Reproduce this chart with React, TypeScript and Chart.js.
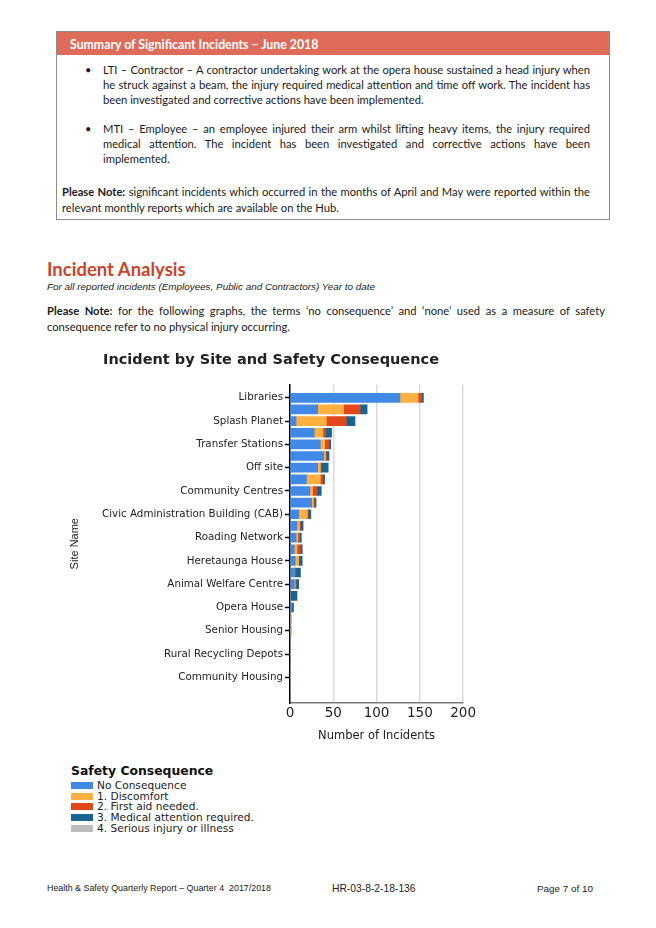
import React, { useEffect, useRef } from "react";
import { Chart, registerables } from "chart.js";

Chart.register(...registerables);

const categories = [
  "Libraries", "", "Splash Planet", "", "Transfer Stations", "", "Off site", "",
  "Community Centres", "", "Civic Administration Building (CAB)", "", "Roading Network", "",
  "Heretaunga House", "", "Animal Welfare Centre", "", "Opera House", "", "Senior Housing", "",
  "Rural Recycling Depots", "", "Community Housing", "",
];

const seriesNames = [
  "No Consequence",
  "1. Discomfort",
  "2. First aid needed.",
  "3. Medical attention required.",
  "4. Serious injury or illness",
];
const seriesColors = ["#4189e6", "#fbb03f", "#e0481a", "#19658f", "#bdbdbd"];

const noConsequence = [127, 32, 7, 28, 35, 39, 32, 19, 23, 25, 10, 8, 7, 5, 6, 5, 5, 0, 2, 0, 0, 0, 0, 0, 0, 0];
const discomfort = [21, 30, 35, 10, 5, 2, 3, 16, 3, 2, 10, 3, 2, 3, 4, 0, 1, 0, 0, 1, 1, 0, 0, 0, 0, 0];
const firstAid = [4, 19, 23, 3, 5, 1, 1, 3, 5, 1, 1, 1, 2, 4, 0, 1, 1, 0, 0, 0, 0, 0, 0, 0, 0, 0];
const medicalAttention = [2, 8, 10, 7, 2, 3, 8, 2, 5, 2, 3, 3, 2, 2, 4, 6, 3, 8, 2, 0, 0, 0, 0, 0, 0, 0];
const seriousInjury = [0, 0, 0, 0, 0, 0, 0, 0, 0, 0, 0, 0, 0, 0, 0, 0, 0, 0, 0, 0, 0, 0, 0, 0, 0, 0];

const seriesValues = [noConsequence, discomfort, firstAid, medicalAttention, seriousInjury];
const xTicks = [0, 50, 100, 150, 200];

const BODY = "Lato, 'Open Sans', sans-serif";
const ARIAL = "'Liberation Sans', Arial, sans-serif";
const DEJAVU = "'DejaVu Sans', sans-serif";
const TXT = 11.2;

function Line(props: { x: number; y: number; w?: number; size: number; justify?: boolean; children: React.ReactNode; style?: React.CSSProperties; lh?: number }) {
  const lh = props.lh ?? 15;
  return (
    <div
      style={{
        position: "absolute",
        left: props.x,
        top: props.y - lh / 2,
        width: props.w,
        height: lh,
        lineHeight: lh + "px",
        fontSize: props.size,
        fontFamily: BODY,
        color: "#1a1a1a",
        whiteSpace: props.justify ? "normal" : "nowrap",
        textAlign: props.justify ? "justify" : "left",
        textAlignLast: props.justify ? "justify" : "left",
        ...props.style,
      }}
    >
      {props.children}
    </div>
  );
}

function IncidentChart() {
  const ref = useRef<HTMLCanvasElement | null>(null);
  useEffect(() => {
    if (!ref.current) return;
    const chart = new Chart(ref.current, {
      type: "bar",
      data: {
        datasets: seriesValues.map((vals, k) => ({
          label: seriesNames[k],
          data: vals.map((v, i) => ({ x: v, y: i })),
          backgroundColor: seriesColors[k],
          borderWidth: 0,
          barThickness: 9,
          stack: "all",
        })),
      },
      options: {
        indexAxis: "y",
        responsive: false,
        animation: false,
        devicePixelRatio: 1,
        layout: { padding: { left: 0, right: 0, top: 0, bottom: 0 } },
        plugins: {
          legend: { display: false },
          tooltip: { enabled: false },
          title: {
            display: true,
            text: "Incident by Site and Safety Consequence",
            color: "#222",
            font: { family: DEJAVU, size: 14.5, weight: "bold" },
            padding: { top: 9, bottom: 15 },
          },
        },
        scales: {
          x: {
            type: "linear",
            stacked: true,
            min: 0,
            max: 200,
            afterBuildTicks: (scale: any) => {
              scale.ticks = xTicks.map((v) => ({ value: v }));
            },
            ticks: { color: "#222", font: { family: DEJAVU, size: 13.5 }, padding: 2 },
            grid: { color: "#dadada", lineWidth: 1.5, drawTicks: false },
            border: { color: "#7a7a7a", width: 1.5 },
            title: {
              display: true,
              text: "Number of Incidents",
              color: "#222",
              font: { family: DEJAVU, size: 11.5 },
              padding: { top: 6, bottom: 5 },
            },
          },
          y: {
            type: "linear",
            reverse: true,
            offset: false,
            min: -1.15,
            max: 26.2,
            afterBuildTicks: (scale: any) => {
              scale.ticks = categories.map((_, i) => ({ value: i }));
            },
            afterFit: (scale: any) => {
              scale.width = 226;
            },
            ticks: {
              autoSkip: false,
              color: "#222",
              font: { family: DEJAVU, size: 10.3 },
              padding: 2,
              callback: (v: any) => categories[v as number] ?? "",
            },
            grid: {
              offset: false,
              drawOnChartArea: false,
              tickLength: 5,
              tickWidth: 1.5,
              tickColor: (ctx: any) => (categories[ctx.tick?.value] ? "#000" : "rgba(0,0,0,0)"),
            },
            border: { color: "#000", width: 1.5 },
            title: {
              display: true,
              text: "Site Name",
              color: "#222",
              font: { family: ARIAL, size: 11 },
              padding: { top: 4.5, bottom: 10 },
            },
          },
        },
      } as any,
    });
    return () => chart.destroy();
  }, []);
  return <canvas ref={ref} width={414} height={405} style={{ position: "absolute", left: 64, top: 343, width: 414, height: 405 }} />;
}

export default function App() {
  return (
    <div style={{ position: "absolute", left: 0, top: 0, width: 656, height: 928, background: "#fff", overflow: "hidden" }}>
      {/* Summary box */}
      <div style={{ position: "absolute", left: 56, top: 31, width: 552, height: 187, border: "1px solid #8c8c8c" }} />
      <div style={{ position: "absolute", left: 57, top: 32, width: 552, height: 23, background: "#df6b5b" }} />
      <Line x={70} y={44} size={12.3} style={{ color: "#fff", fontWeight: 700 }}>
        Summary of Significant Incidents – June 2018
      </Line>
      <Line x={85} y={69} size={11}>•</Line>
      <Line x={103} y={69} w={487} size={TXT} justify>
        LTI – Contractor – A contractor undertaking work at the opera house sustained a head injury when
      </Line>
      <Line x={103} y={84.5} w={487} size={TXT} justify>
        he struck against a beam, the injury required medical attention and time off work. The incident has
      </Line>
      <Line x={103} y={99.5} size={TXT}>
        been investigated and corrective actions have been implemented.
      </Line>
      <Line x={85} y={128} size={11}>•</Line>
      <Line x={103} y={128} w={487} size={TXT} justify>
        MTI – Employee – an employee injured their arm whilst lifting heavy items, the injury required
      </Line>
      <Line x={103} y={143} w={487} size={TXT} justify>
        medical attention. The incident has been investigated and corrective actions have been
      </Line>
      <Line x={103} y={158} size={TXT}>
        implemented.
      </Line>
      <Line x={62} y={191.5} w={528} size={TXT} justify>
        <b>Please Note:</b> significant incidents which occurred in the months of April and May were reported within the
      </Line>
      <Line x={62} y={207} size={TXT}>
        relevant monthly reports which are available on the Hub.
      </Line>

      {/* Incident analysis */}
      <Line x={47} y={269} size={18.5} lh={24} style={{ color: "#c8452b", fontWeight: 700 }}>
        Incident Analysis
      </Line>
      <Line x={47} y={286} size={9.9} style={{ fontFamily: ARIAL, fontStyle: "italic", color: "#222" }}>
        For all reported incidents (Employees, Public and Contractors) Year to date
      </Line>
      <Line x={47} y={310} w={558} size={TXT} justify>
        <b>Please Note:</b> for the following graphs, the terms ‘no consequence’ and ‘none’ used as a measure of safety
      </Line>
      <Line x={47} y={326} size={TXT}>
        consequence refer to no physical injury occurring.
      </Line>

      <IncidentChart />

      {/* Legend */}
      <div style={{ position: "absolute", left: 71, top: 763, fontFamily: DEJAVU, fontWeight: 700, fontSize: 12.4, lineHeight: "16px", color: "#111" }}>
        Safety Consequence
      </div>
      {seriesNames.map((name, k) => (
        <div key={name} style={{ position: "absolute", left: 71, top: 780 + k * 10.7, height: 11, display: "flex", alignItems: "center" }}>
          <div style={{ width: 22, height: 7, background: seriesColors[k] }} />
          <div style={{ marginLeft: 4, fontFamily: DEJAVU, fontSize: 10.6, lineHeight: "11px", color: "#222", whiteSpace: "nowrap" }}>{name}</div>
        </div>
      ))}

      {/* Footer */}
      <Line x={47} y={888} size={8.9} style={{ fontFamily: ARIAL, color: "#222" }}>
        Health &amp; Safety Quarterly Report – Quarter 4&nbsp; 2017/2018
      </Line>
      <Line x={332} y={888} size={10.3} style={{ fontFamily: ARIAL, color: "#222" }}>
        HR-03-8-2-18-136
      </Line>
      <Line x={537} y={888} size={9.9} style={{ fontFamily: ARIAL, color: "#222" }}>
        Page 7 of 10
      </Line>
    </div>
  );
}
